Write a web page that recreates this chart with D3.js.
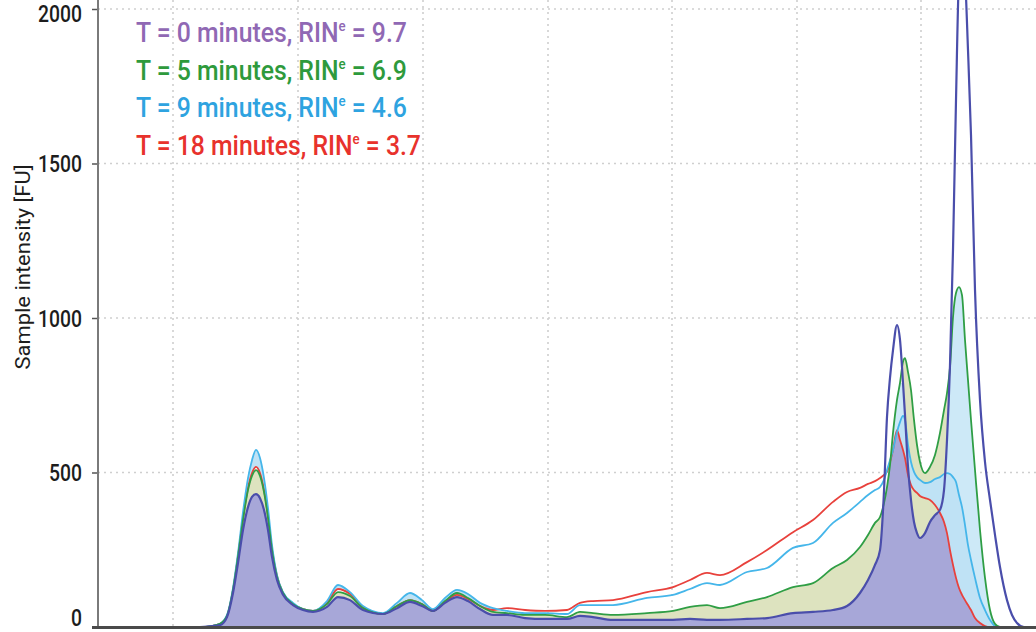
<!DOCTYPE html>
<html>
<head>
<meta charset="utf-8">
<script src="https://cdn.jsdelivr.net/npm/d3@7"></script>
<style>
    html, body { margin: 0; padding: 0; background: #ffffff; }
    svg { display: block; }
</style>
</head>
<body>
<div id="chart"></div>
<script>
// Electropherogram overlay: RNA degradation time course
const sizeIndex = [0, 52, 102, 114, 122, 129, 135, 140, 145, 150, 154, 158, 162, 166, 170, 174, 179, 185, 195, 205,
    215, 229, 240, 252, 265, 285, 299, 312, 324, 335, 347, 359, 370, 382, 395, 409, 427, 447, 469, 482,
    495, 515, 549, 575, 592, 609, 622, 649, 669, 695, 715, 735, 749, 762, 770, 777, 782, 786, 789, 792,
    795, 799, 802, 805, 807, 810, 813, 816, 819, 822, 827, 832, 837, 842, 846, 849, 852, 855, 858, 861,
    864, 867, 870, 873, 877, 882, 887, 892, 897, 902, 909, 914, 919, 926, 938];

const t0Values = [0, 0, 0, 3, 6, 32, 110, 207, 314, 388, 421, 430, 417, 379, 314, 227, 152, 104, 71, 55,
    49, 65, 97, 87, 55, 42, 61, 81, 68, 52, 78, 97, 84, 58, 39, 39, 29, 26, 26, 36,
    32, 23, 23, 23, 26, 23, 23, 26, 29, 45, 49, 55, 68, 110, 152, 201, 249, 440, 680, 806,
    896, 977, 929, 790, 686, 518, 411, 340, 304, 288, 304, 340, 362, 379, 443, 605, 848, 1220, 1705, 2110,
    2200, 2110, 1867, 1592, 1091, 735, 534, 411, 298, 194, 87, 39, 13, 0, 0];

const t5Values = [0, 0, 0, 3, 10, 36, 120, 227, 346, 443, 489, 508, 489, 437, 353, 249, 162, 110, 74, 58,
    52, 74, 113, 100, 61, 42, 68, 87, 74, 52, 84, 110, 94, 68, 49, 45, 39, 39, 32, 49,
    45, 39, 45, 52, 65, 71, 61, 81, 97, 129, 142, 191, 217, 259, 298, 337, 356, 401, 453, 524,
    628, 735, 790, 858, 870, 825, 767, 670, 589, 534, 498, 518, 557, 628, 702, 757, 841, 1003, 1081, 1100,
    1074, 929, 799, 670, 508, 314, 159, 55, 10, 0, 0, 0, 0, 0, 0];

const t9Values = [0, 0, 0, 3, 10, 39, 126, 239, 372, 482, 540, 573, 547, 482, 385, 265, 168, 113, 78, 58,
    52, 84, 136, 113, 68, 45, 78, 110, 87, 58, 94, 120, 107, 78, 61, 52, 45, 45, 42, 71,
    71, 71, 94, 104, 123, 142, 136, 178, 191, 256, 272, 337, 369, 405, 427, 443, 453, 476, 508, 540,
    573, 631, 663, 683, 670, 589, 534, 502, 485, 476, 466, 469, 479, 485, 495, 498, 495, 485, 469, 427,
    388, 330, 265, 217, 159, 94, 55, 23, 3, 0, 0, 0, 0, 0, 0];

const t18Values = [0, 0, 0, 3, 10, 36, 120, 230, 353, 450, 498, 518, 498, 443, 359, 252, 165, 110, 74, 58,
    52, 78, 123, 107, 65, 42, 68, 87, 74, 52, 81, 104, 91, 68, 55, 61, 55, 52, 55, 78,
    84, 87, 113, 129, 152, 175, 168, 210, 249, 307, 346, 405, 437, 450, 463, 472, 482, 492, 502, 534,
    573, 637, 605, 573, 547, 492, 459, 443, 434, 424, 417, 411, 395, 369, 340, 304, 249, 201, 159, 126,
    104, 87, 71, 55, 29, 13, 3, 0, 0, 0, 0, 0, 0, 0, 0];

const timePoints = ["0", "5", "9", "18"];
const rinValues = ["9.7", "6.9", "4.6", "3.7"];
const yTicks = [0, 500, 1000, 1500, 2000];
const xGridValues = [75, 200, 325, 450, 574, 699, 823];

(function () {
    "use strict";

    const width = 1036;
    const height = 632;
    const margin = { top: 0, right: 0, bottom: 5, left: 98 };
    const baseY = 627;
    const fontFamily = "Roboto, 'Liberation Sans', sans-serif";

    const rows = sizeIndex.map((x, i) => ({
        x,
        t0: t0Values[i],
        t5: t5Values[i],
        t9: t9Values[i],
        t18: t18Values[i]
    }));

    const svg = d3.select("#chart")
        .append("svg")
        .attr("width", width)
        .attr("height", height)
        .attr("viewBox", [0, 0, width, height]);

    const x = d3.scaleLinear()
        .domain([0, 938])
        .range([margin.left, width - margin.right]);

    const y = d3.scaleLinear()
        .domain([0, 2000])
        .range([baseY, 9]);

    svg.append("defs")
        .append("clipPath")
        .attr("id", "plot-clip")
        .append("rect")
        .attr("x", margin.left)
        .attr("y", 0)
        .attr("width", width - margin.left)
        .attr("height", baseY);

    // dotted grid
    const grid = svg.append("g").attr("class", "grid");
    grid.selectAll("line.h")
        .data(yTicks.filter((d) => d > 0))
        .join("line")
        .attr("class", "h")
        .attr("x1", margin.left)
        .attr("x2", width)
        .attr("y1", (d) => y(d))
        .attr("y2", (d) => y(d))
        .attr("stroke", "#cfcfcf")
        .attr("stroke-width", 1.6)
        .attr("stroke-dasharray", "2,4");

    grid.selectAll("line.v")
        .data(xGridValues)
        .join("line")
        .attr("class", "v")
        .attr("x1", (d) => x(d))
        .attr("x2", (d) => x(d))
        .attr("y1", 0)
        .attr("y2", baseY)
        .attr("stroke", "#cfcfcf")
        .attr("stroke-width", 1.6)
        .attr("stroke-dasharray", "2,4");

    const plot = svg.append("g").attr("clip-path", "url(#plot-clip)");
    const curve = d3.curveMonotoneX;

    const band = (lower, upper) => d3.area()
        .curve(curve)
        .x((d) => x(d.x))
        .y0((d) => y(lower(d)))
        .y1((d) => y(Math.max(lower(d), upper(d))));

    // olive: where the 5 min trace sits above the intact trace
    plot.append("path")
        .datum(rows)
        .attr("fill", "#dde3bf")
        .attr("d", band((d) => d.t0, (d) => d.t5));

    // light blue: 9 min trace above the 18 min trace
    plot.append("path")
        .datum(rows)
        .attr("fill", "#bfe2f5")
        .attr("d", band((d) => d.t18, (d) => d.t9));

    // light blue: 5 min trace above 9 min trace, under the intact trace
    plot.append("path")
        .datum(rows)
        .attr("fill", "#cde9f7")
        .attr("d", band((d) => d.t9, (d) => Math.min(d.t5, d.t0)));

    // lavender: common area under all traces
    plot.append("path")
        .datum(rows)
        .attr("fill", "#a7a7d8")
        .attr("d", band(() => 0, (d) => Math.min(d.t0, d.t5, d.t9, d.t18)));

    const series = [
        { key: "t18", color: "#e8413c", width: 1.8 },
        { key: "t9", color: "#45b6ea", width: 1.8 },
        { key: "t5", color: "#2f9e45", width: 1.8 },
        { key: "t0", color: "#4a4eab", width: 2.2 }
    ];

    series.forEach((s) => {
        plot.append("path")
            .datum(rows)
            .attr("fill", "none")
            .attr("stroke", s.color)
            .attr("stroke-width", s.width)
            .attr("stroke-linejoin", "round")
            .attr("d", d3.line()
                .curve(curve)
                .x((d) => x(d.x))
                .y((d) => y(d[s.key])));
    });

    // axes
    const yAxis = svg.append("g")
        .attr("transform", `translate(${margin.left},0)`)
        .call(d3.axisLeft(y).tickValues(yTicks).tickSize(6).tickPadding(10).tickFormat(d3.format("d")));

    yAxis.select(".domain").remove();
    yAxis.selectAll(".tick line").attr("stroke", "#555").attr("stroke-width", 1.5);

    const tickText = yAxis.selectAll(".tick text")
        .attr("fill", "#1d1d1d")
        .style("font-family", fontFamily)
        .style("font-size", "24px")
        .style("font-weight", "500");

    // squeeze the labels to a condensed look ("2000" is about 44px wide)
    const widest = tickText.filter((d) => d === 2000).node().getBBox().width;
    const squeeze = 44 / widest;
    tickText
        .attr("x", -16 / squeeze)
        .attr("transform", `scale(${squeeze},1)`)
        .attr("dy", (d) => (d === 2000 ? "0.5em" : d === 0 ? "-0.05em" : "0.35em"));

    svg.append("line")
        .attr("x1", margin.left)
        .attr("x2", margin.left)
        .attr("y1", 0)
        .attr("y2", baseY)
        .attr("stroke", "#7a7a7a")
        .attr("stroke-width", 2);

    svg.append("line")
        .attr("x1", 92)
        .attr("x2", width)
        .attr("y1", baseY + 0.5)
        .attr("y2", baseY + 0.5)
        .attr("stroke", "#4a4a4a")
        .attr("stroke-width", 3);

    svg.append("text")
        .attr("transform", "translate(30,267) rotate(-90)")
        .attr("text-anchor", "middle")
        .attr("fill", "#1d1d1d")
        .attr("textLength", 205)
        .attr("lengthAdjust", "spacingAndGlyphs")
        .style("font-family", fontFamily)
        .style("font-size", "20px")
        .text("Sample intensity [FU]");

    // legend
    const legendColors = ["#9068b4", "#2e9a3c", "#2ea3e0", "#e8322c"];
    const legend = svg.append("g").attr("transform", "translate(136,0)");
    const legendInner = legend.append("g");
    timePoints.forEach((t, i) => {
        const label = legendInner.append("text")
            .attr("x", 0)
            .attr("y", 42 + i * 37.7)
            .attr("fill", legendColors[i])
            .style("font-family", fontFamily)
            .style("font-size", "28px")
            .style("font-weight", "500");
        label.append("tspan").text(`T = ${t} minutes, RIN`);
        label.append("tspan")
            .attr("dy", -11)
            .style("font-size", "15px")
            .text("e");
        label.append("tspan")
            .attr("dy", 11)
            .text(` = ${rinValues[i]}`);
    });

    const firstWidth = legendInner.select("text").node().getBBox().width;
    legendInner.attr("transform", `scale(${271 / firstWidth},1)`);
})();
</script>
</body>
</html>
